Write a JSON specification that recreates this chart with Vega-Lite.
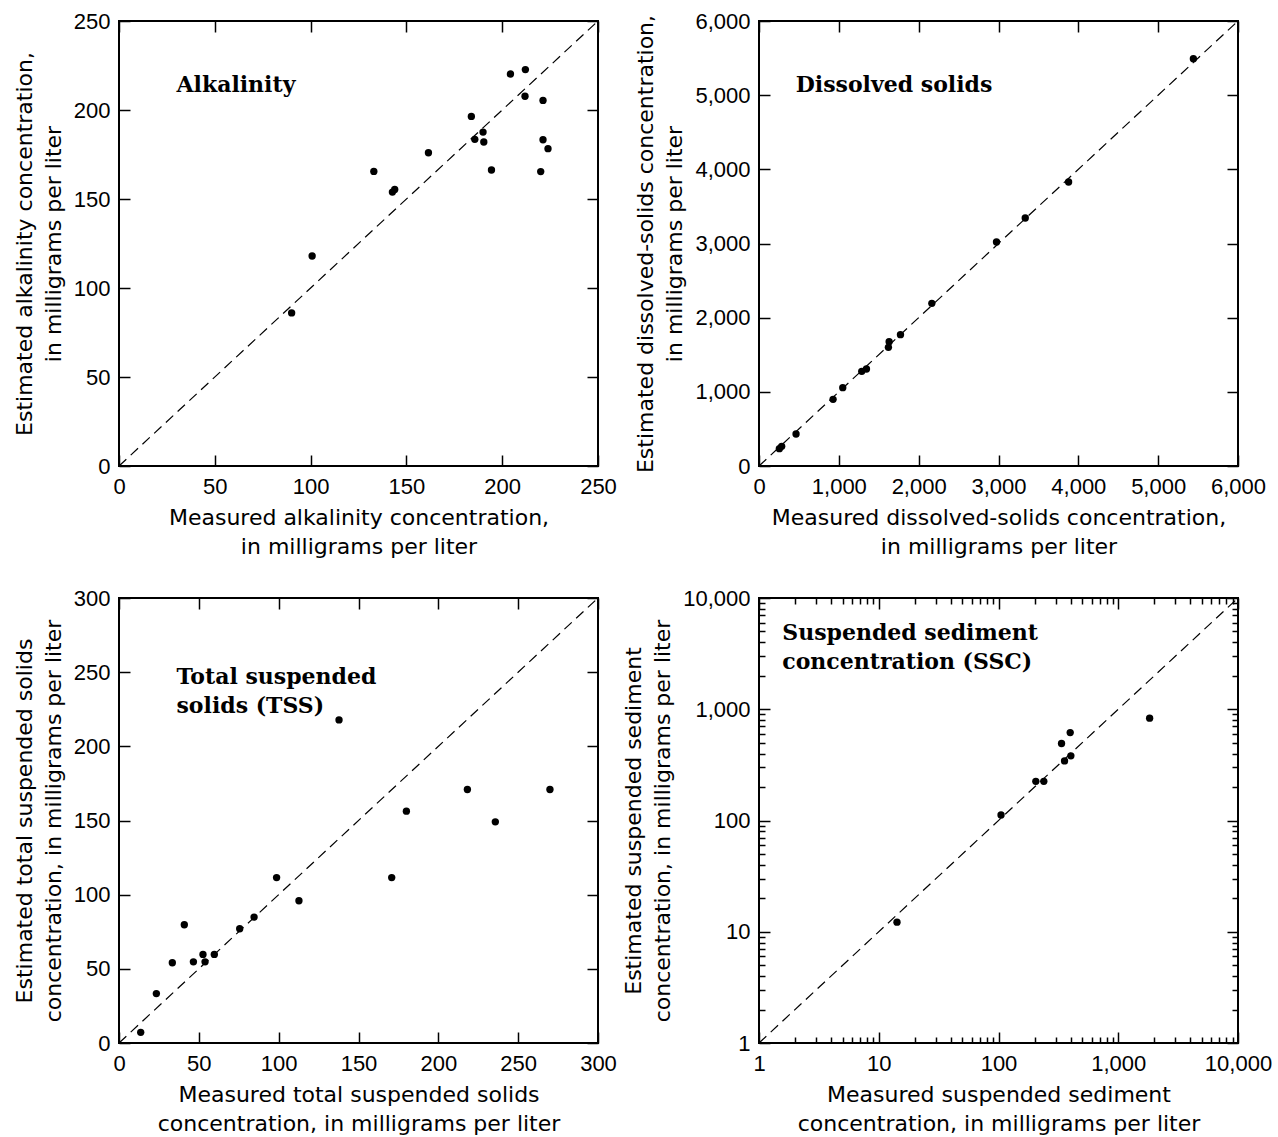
{
  "$schema": "https://vega.github.io/schema/vega-lite/v6.json",
  "background": "white",
  "padding": {"left": 12, "top": 9, "right": 10, "bottom": 0},
  "datasets": {
    "alk": [
      {"measured": 90.1, "estimated": 86.0},
      {"measured": 100.8, "estimated": 118.0},
      {"measured": 133.0, "estimated": 165.5},
      {"measured": 142.7, "estimated": 153.9},
      {"measured": 143.9, "estimated": 155.4},
      {"measured": 161.5, "estimated": 176.0},
      {"measured": 183.9, "estimated": 196.4},
      {"measured": 185.7, "estimated": 183.5},
      {"measured": 190.0, "estimated": 187.6},
      {"measured": 190.4, "estimated": 182.0},
      {"measured": 194.4, "estimated": 166.3},
      {"measured": 204.3, "estimated": 220.2},
      {"measured": 212.1, "estimated": 222.7},
      {"measured": 211.9, "estimated": 207.7},
      {"measured": 221.3, "estimated": 205.4},
      {"measured": 221.3, "estimated": 183.3},
      {"measured": 223.9, "estimated": 178.3},
      {"measured": 220.1, "estimated": 165.4}
    ],
    "ds": [
      {"measured": 255, "estimated": 234},
      {"measured": 284, "estimated": 265},
      {"measured": 464, "estimated": 431},
      {"measured": 928, "estimated": 899},
      {"measured": 1049, "estimated": 1056},
      {"measured": 1287, "estimated": 1276},
      {"measured": 1346, "estimated": 1308},
      {"measured": 1621, "estimated": 1600},
      {"measured": 1630, "estimated": 1676},
      {"measured": 1772, "estimated": 1771},
      {"measured": 2165, "estimated": 2193},
      {"measured": 2975, "estimated": 3020},
      {"measured": 3335, "estimated": 3344},
      {"measured": 3878, "estimated": 3829},
      {"measured": 5441, "estimated": 5492}
    ],
    "tss": [
      {"measured": 13.6, "estimated": 7.2},
      {"measured": 23.4, "estimated": 33.3},
      {"measured": 33.4, "estimated": 54.1},
      {"measured": 40.9, "estimated": 79.7},
      {"measured": 46.6, "estimated": 54.7},
      {"measured": 52.6, "estimated": 59.7},
      {"measured": 53.9, "estimated": 54.7},
      {"measured": 59.7, "estimated": 59.7},
      {"measured": 75.6, "estimated": 77.0},
      {"measured": 84.6, "estimated": 84.9},
      {"measured": 98.7, "estimated": 111.5},
      {"measured": 112.7, "estimated": 95.9},
      {"measured": 137.8, "estimated": 217.8},
      {"measured": 170.8, "estimated": 111.5},
      {"measured": 180.0, "estimated": 156.3},
      {"measured": 218.2, "estimated": 170.9},
      {"measured": 235.7, "estimated": 149.1},
      {"measured": 269.9, "estimated": 170.9}
    ],
    "ssc": [
      {"measured": 14.2, "estimated": 12.2},
      {"measured": 105, "estimated": 112},
      {"measured": 205, "estimated": 225},
      {"measured": 239, "estimated": 225},
      {"measured": 336, "estimated": 492},
      {"measured": 356, "estimated": 343},
      {"measured": 397, "estimated": 617},
      {"measured": 402, "estimated": 381},
      {"measured": 1828, "estimated": 831}
    ]
  },
  "concat": [
    {
      "width": 479, "height": 445,
      "layer": [
        {
          "data": {"values": [{"v": 0}, {"v": 250}]},
          "mark": {"type": "line", "color": "black", "strokeWidth": 1.2, "strokeDash": [10, 6]},
          "encoding": {
            "x": {"field": "v", "type": "quantitative", "scale": {"domain": [0, 250], "nice": false},
              "axis": {"values": [0, 50, 100, 150, 200, 250], "title": ["Measured alkalinity concentration,", "in milligrams per liter"]}},
            "y": {"field": "v", "type": "quantitative", "scale": {"domain": [0, 250], "nice": false},
              "axis": {"values": [0, 50, 100, 150, 200, 250], "title": ["Estimated alkalinity concentration,", "in milligrams per liter"]}}
          }
        },
        {
          "data": {"name": "alk"},
          "mark": {"type": "circle", "size": 54, "color": "black", "opacity": 1},
          "encoding": {
            "x": {"field": "measured", "type": "quantitative", "axis": {"orient": "top", "values": [0, 50, 100, 150, 200, 250], "labels": false, "title": null}},
            "y": {"field": "estimated", "type": "quantitative", "axis": {"orient": "right", "values": [0, 50, 100, 150, 200, 250], "labels": false, "title": null}}
          }
        },
        {
          "data": {"values": [{"label": "Alkalinity"}]},
          "mark": {"type": "text", "font": "DejaVu Serif", "fontWeight": "bold", "fontSize": 22, "align": "left", "baseline": "alphabetic", "color": "black"},
          "encoding": {
            "x": {"datum": 30, "type": "quantitative", "axis": null},
            "y": {"datum": 210, "type": "quantitative", "axis": null},
            "text": {"field": "label"}
          }
        }
      ],
      "resolve": {"axis": {"x": "independent", "y": "independent"}}
    },
    {
      "width": 479, "height": 445,
      "layer": [
        {
          "data": {"values": [{"v": 0}, {"v": 6000}]},
          "mark": {"type": "line", "color": "black", "strokeWidth": 1.2, "strokeDash": [10, 6]},
          "encoding": {
            "x": {"field": "v", "type": "quantitative", "scale": {"domain": [0, 6000], "nice": false},
              "axis": {"values": [0, 1000, 2000, 3000, 4000, 5000, 6000], "format": ",d", "title": ["Measured dissolved-solids concentration,", "in milligrams per liter"]}},
            "y": {"field": "v", "type": "quantitative", "scale": {"domain": [0, 6000], "nice": false},
              "axis": {"values": [0, 1000, 2000, 3000, 4000, 5000, 6000], "format": ",d", "title": ["Estimated dissolved-solids concentration,", "in milligrams per liter"]}}
          }
        },
        {
          "data": {"name": "ds"},
          "mark": {"type": "circle", "size": 54, "color": "black", "opacity": 1},
          "encoding": {
            "x": {"field": "measured", "type": "quantitative", "axis": {"orient": "top", "values": [0, 1000, 2000, 3000, 4000, 5000, 6000], "labels": false, "title": null}},
            "y": {"field": "estimated", "type": "quantitative", "axis": {"orient": "right", "values": [0, 1000, 2000, 3000, 4000, 5000, 6000], "labels": false, "title": null}}
          }
        },
        {
          "data": {"values": [{"label": "Dissolved solids"}]},
          "mark": {"type": "text", "font": "DejaVu Serif", "fontWeight": "bold", "fontSize": 22, "align": "left", "baseline": "alphabetic", "color": "black"},
          "encoding": {
            "x": {"datum": 460, "type": "quantitative", "axis": null},
            "y": {"datum": 5040, "type": "quantitative", "axis": null},
            "text": {"field": "label"}
          }
        }
      ],
      "resolve": {"axis": {"x": "independent", "y": "independent"}}
    },
    {
      "width": 479, "height": 445,
      "layer": [
        {
          "data": {"values": [{"v": 0}, {"v": 300}]},
          "mark": {"type": "line", "color": "black", "strokeWidth": 1.2, "strokeDash": [10, 6]},
          "encoding": {
            "x": {"field": "v", "type": "quantitative", "scale": {"domain": [0, 300], "nice": false},
              "axis": {"values": [0, 50, 100, 150, 200, 250, 300], "title": ["Measured total suspended solids", "concentration, in milligrams per liter"]}},
            "y": {"field": "v", "type": "quantitative", "scale": {"domain": [0, 300], "nice": false},
              "axis": {"values": [0, 50, 100, 150, 200, 250, 300], "title": ["Estimated total suspended solids", "concentration, in milligrams per liter"]}}
          }
        },
        {
          "data": {"name": "tss"},
          "mark": {"type": "circle", "size": 54, "color": "black", "opacity": 1},
          "encoding": {
            "x": {"field": "measured", "type": "quantitative", "axis": {"orient": "top", "values": [0, 50, 100, 150, 200, 250, 300], "labels": false, "title": null}},
            "y": {"field": "estimated", "type": "quantitative", "axis": {"orient": "right", "values": [0, 50, 100, 150, 200, 250, 300], "labels": false, "title": null}}
          }
        },
        {
          "data": {"values": [{"label": "Total suspended solids (TSS)"}]},
          "mark": {"type": "text", "font": "DejaVu Serif", "fontWeight": "bold", "fontSize": 22, "align": "left", "baseline": "alphabetic", "color": "black", "lineHeight": 29},
          "encoding": {
            "x": {"datum": 36, "type": "quantitative", "axis": null},
            "y": {"datum": 242, "type": "quantitative", "axis": null},
            "text": {"value": ["Total suspended", "solids (TSS)"]}
          }
        }
      ],
      "resolve": {"axis": {"x": "independent", "y": "independent"}}
    },
    {
      "width": 479, "height": 445,
      "layer": [
        {
          "data": {"values": [{"v": 1}, {"v": 10000}]},
          "mark": {"type": "line", "color": "black", "strokeWidth": 1.2, "strokeDash": [10, 6]},
          "encoding": {
            "x": {"field": "v", "type": "quantitative", "scale": {"type": "log", "domain": [1, 10000], "nice": false},
              "axis": {"values": [1,2,3,4,5,6,7,8,9,10,20,30,40,50,60,70,80,90,100,200,300,400,500,600,700,800,900,1000,2000,3000,4000,5000,6000,7000,8000,9000,10000],
                "format": ",", "labelExpr": "indexof([1,10,100,1000,10000], datum.value) >= 0 ? datum.label : ''", "labelOverlap": false,
                "tickSize": {"condition": {"test": "indexof([1,10,100,1000,10000], datum.value) >= 0", "value": -11}, "value": -6},
                "titlePadding": 5,
                "title": ["Measured suspended sediment", "concentration, in milligrams per liter"]}},
            "y": {"field": "v", "type": "quantitative", "scale": {"type": "log", "domain": [1, 10000], "nice": false},
              "axis": {"values": [1,2,3,4,5,6,7,8,9,10,20,30,40,50,60,70,80,90,100,200,300,400,500,600,700,800,900,1000,2000,3000,4000,5000,6000,7000,8000,9000,10000],
                "format": ",", "labelExpr": "indexof([1,10,100,1000,10000], datum.value) >= 0 ? datum.label : ''", "labelOverlap": false,
                "tickSize": {"condition": {"test": "indexof([1,10,100,1000,10000], datum.value) >= 0", "value": -11}, "value": -6},
                "title": ["Estimated suspended sediment", "concentration, in milligrams per liter"]}}
          }
        },
        {
          "data": {"name": "ssc"},
          "mark": {"type": "circle", "size": 54, "color": "black", "opacity": 1},
          "encoding": {
            "x": {"field": "measured", "type": "quantitative", "axis": {"orient": "top", "values": [1,2,3,4,5,6,7,8,9,10,20,30,40,50,60,70,80,90,100,200,300,400,500,600,700,800,900,1000,2000,3000,4000,5000,6000,7000,8000,9000,10000], "labels": false, "title": null,
                "tickSize": {"condition": {"test": "indexof([1,10,100,1000,10000], datum.value) >= 0", "value": -11}, "value": -6}}},
            "y": {"field": "estimated", "type": "quantitative", "axis": {"orient": "right", "values": [1,2,3,4,5,6,7,8,9,10,20,30,40,50,60,70,80,90,100,200,300,400,500,600,700,800,900,1000,2000,3000,4000,5000,6000,7000,8000,9000,10000], "labels": false, "title": null,
                "tickSize": {"condition": {"test": "indexof([1,10,100,1000,10000], datum.value) >= 0", "value": -11}, "value": -6}}}
          }
        },
        {
          "data": {"values": [{"label": "Suspended sediment concentration (SSC)"}]},
          "mark": {"type": "text", "font": "DejaVu Serif", "fontWeight": "bold", "fontSize": 22, "align": "left", "baseline": "alphabetic", "color": "black", "lineHeight": 29},
          "encoding": {
            "x": {"datum": 1.565, "type": "quantitative", "axis": null},
            "y": {"datum": 4217, "type": "quantitative", "axis": null},
            "text": {"value": ["Suspended sediment", "concentration (SSC)"]}
          }
        }
      ],
      "resolve": {"axis": {"x": "independent", "y": "independent"}}
    }
  ],
  "columns": 2,
  "spacing": {"row": 132, "column": 161},
  "bounds": "flush",
  "config": {
    "view": {"stroke": "black", "strokeWidth": 2},
    "axis": {
      "domain": false, "grid": false,
      "tickColor": "black", "tickWidth": 1.5, "tickSize": -11,
      "labelFont": "Liberation Sans", "labelFontSize": 22, "labelColor": "black", "labelFlush": false,
      "titleFont": "DejaVu Sans", "titleFontSize": 22, "titleFontWeight": "normal", "titleColor": "black", "titleLineHeight": 29
    },
    "axisX": {"labelPadding": 21, "titlePadding": 10},
    "axisY": {"labelPadding": 20, "titlePadding": 8}
  }
}
